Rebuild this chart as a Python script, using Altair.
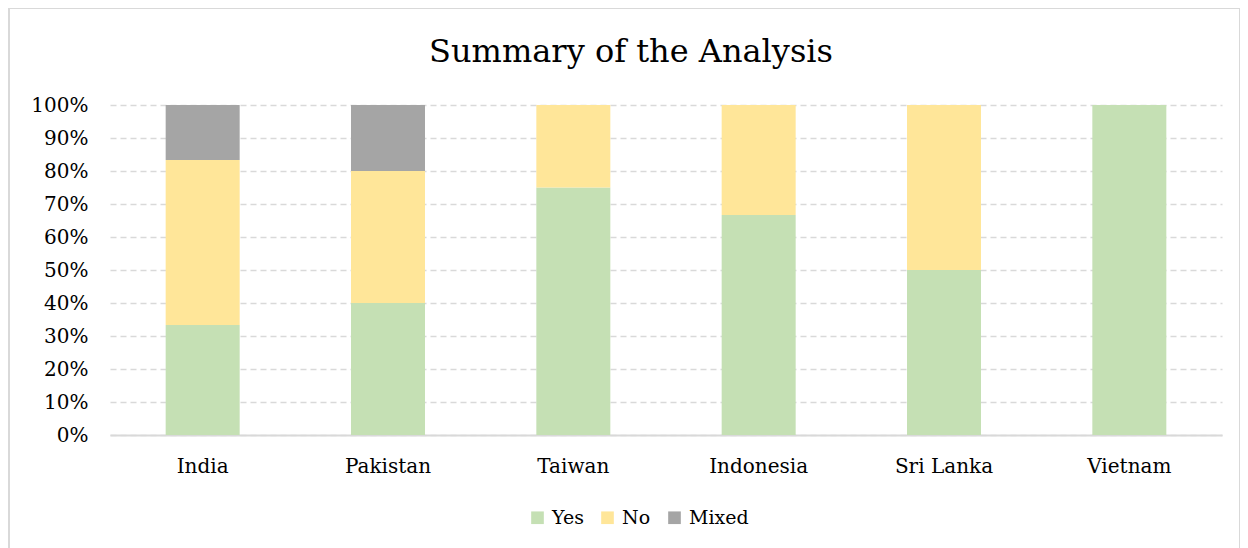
import altair as alt
import pandas as pd

countries = ["India", "Pakistan", "Taiwan", "Indonesia", "Sri Lanka", "Vietnam"]
yes = [33.3, 40.0, 75.0, 66.7, 50.0, 100.0]
no = [50.0, 40.0, 25.0, 33.3, 50.0, 0.0]
mixed = [16.7, 20.0, 0.0, 0.0, 0.0, 0.0]
series = ["Yes", "No", "Mixed"]
colors = ["#C5E0B4", "#FFE699", "#A5A5A5"]
chart_title = "Summary of the Analysis"

rows = []
for i, c in enumerate(countries):
    for k, (s, vals) in enumerate(zip(series, [yes, no, mixed])):
        rows.append({"Country": c, "Response": s, "Value": vals[i] / 100.0, "order": k})
df = pd.DataFrame(rows)

FONT = "DejaVu Serif"
W, H = 1112, 330

one = pd.DataFrame({"t": [chart_title]})

border = alt.Chart(one).mark_rect(
    fillOpacity=0, stroke="#D9D9D9", strokeWidth=2, clip=False
).encode(
    x=alt.value(-101), x2=alt.value(W + 18), y=alt.value(-97), y2=alt.value(H + 115)
)

title = alt.Chart(one).mark_text(
    font=FONT, fontSize=32, color="#000000", align="center", baseline="alphabetic"
).encode(text="t:N", x=alt.value(521), y=alt.value(-43))

bars = alt.Chart(df).mark_bar(size=74).encode(
    x=alt.X("Country:N", sort=countries, title=None,
            scale=alt.Scale(paddingInner=0.6, paddingOuter=0.3),
            axis=alt.Axis(labelAngle=0, labelFont=FONT, labelFontSize=20,
                          labelColor="#000000", labelPadding=21, ticks=False,
                          domainColor="#D9D9D9", domainWidth=2, grid=False)),
    y=alt.Y("Value:Q", stack="zero", title=None,
            scale=alt.Scale(domain=[0, 1], nice=False),
            axis=alt.Axis(format=".0%", values=[i / 10 for i in range(11)],
                          labelFont=FONT, labelFontSize=20, labelColor="#000000",
                          labelPadding=22, ticks=False, domain=False,
                          gridColor="#D9D9D9", gridDash=[6, 4], gridWidth=1.5)),
    color=alt.Color("Response:N", sort=series,
                    scale=alt.Scale(domain=series, range=colors),
                    legend=alt.Legend(title=None, orient="none", legendX=418, legendY=403,
                                      direction="horizontal", symbolType="square",
                                      symbolSize=160, symbolStrokeWidth=0,
                                      labelFont=FONT, labelFontSize=19, labelOffset=5,
                                      labelColor="#000000", columnPadding=14)),
    order=alt.Order("order:Q"),
)

chart = alt.layer(bars, border, title).properties(
    width=W, height=H,
    autosize=alt.AutoSizeParams(type="none"),
    padding={"left": 102, "top": 97, "right": 18, "bottom": 113},
).configure_view(stroke=None)

chart.save("out.html", embed_options={"renderer": "svg", "actions": False})
